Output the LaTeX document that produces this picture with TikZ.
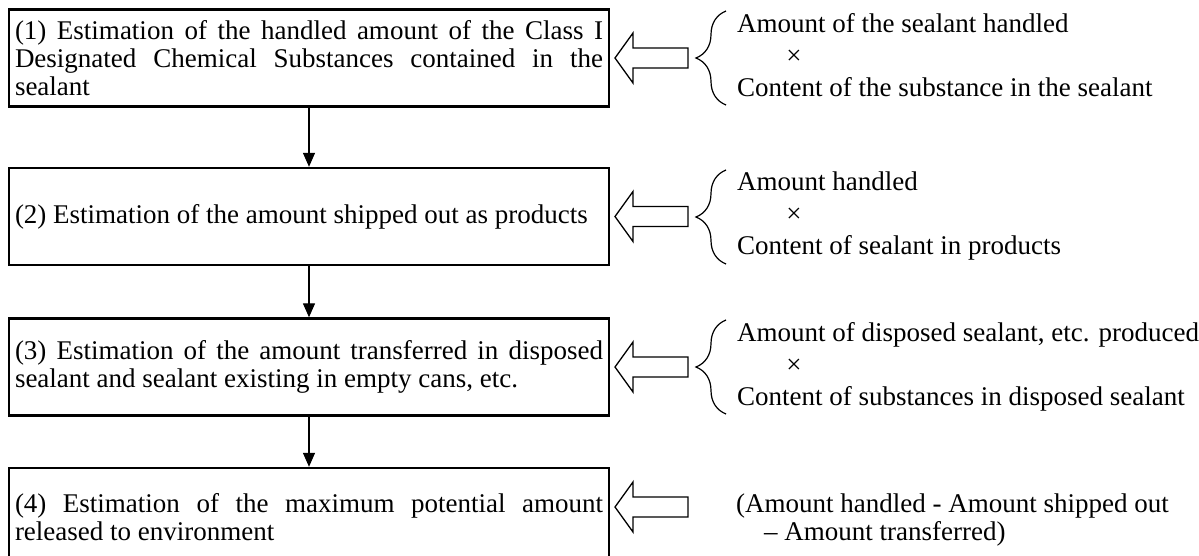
\documentclass[tikz,border=0pt]{standalone}
\usepackage{fontspec}
\setmainfont{Liberation Serif}
\usetikzlibrary{arrows.meta,decorations.pathreplacing}
\hyphenpenalty=10000
\exhyphenpenalty=10000
\begin{document}
\begin{tikzpicture}[x=1pt,y=-1pt,
  every node/.style={font=\fontsize{27}{28}\selectfont},
  box/.style={draw, line width=2.4pt, text width=588pt, inner xsep=6pt, inner ysep=0pt, minimum height=97pt, align=justify},
  flow/.style={line width=1.3pt, -{Triangle[length=14pt,width=12pt]}},
  rtext/.style={anchor=base west, inner sep=0pt},
  timesmark/.style={anchor=base, inner sep=0pt},
  brc/.style={decorate, decoration={brace, amplitude=30pt}, line width=1.2pt},
  blk/.style={line width=1.3pt, line join=miter},
  blockarrow/.pic={\draw[blk] (0,0) -- (18,-25) -- (18,-10) -- (73,-10) -- (73,10) -- (18,10) -- (18,25) -- cycle;}
]
\useasboundingbox (0,0) rectangle (1199,555);
\clip (0,0) rectangle (1199,555);

\node[box] (b1) at (309,58) {(1) Estimation of the handled amount of the Class I\linebreak Designated Chemical Substances contained in the\linebreak sealant};
\node[box] (b2) at (309,216.5) {(2) Estimation of the amount shipped out as products};
\node[box] (b3) at (309,367) {(3) Estimation of the amount transferred in disposed\linebreak sealant and sealant existing in empty cans, etc.};
\node[box, minimum height=98pt] (b4) at (309,517) {(4) Estimation of the maximum potential amount\linebreak released to environment};

\draw[flow] (b1) -- (b2);
\draw[flow] (b2) -- (b3);
\draw[flow] (b3) -- (b4);

\pic at (615,58) {blockarrow};
\pic at (615,216.5) {blockarrow};
\pic at (615,367) {blockarrow};
\pic at (615,507) {blockarrow};

% block 1
\node[rtext] (r1a) at (737,32) {Amount of the sealant handled};
\node[timesmark] (r1b) at (794,64) {×};
\node[rtext] (r1c) at (737,96) {Content of the substance in the sealant};
\draw[brc] (726,105) -- (726,11);

% block 2
\node[rtext] (r2a) at (737,190.5) {Amount handled};
\node[timesmark] (r2b) at (794,222.5) {×};
\node[rtext] (r2c) at (737,254.5) {Content of sealant in products};
\draw[brc] (726,264) -- (726,170);

% block 3
\node[rtext] (r3a) at (737,341) {Amount of disposed sealant, etc. produced};
\node[timesmark] (r3b) at (794,373) {×};
\node[rtext] (r3c) at (737,405) {Content of substances in disposed sealant};
\draw[brc] (726,414) -- (726,320);

% block 4
\node[rtext] (r4a) at (736,512) {(Amount handled - Amount shipped out};
\node[rtext] (r4b) at (764,540) {– Amount transferred)};
\end{tikzpicture}
\end{document}
